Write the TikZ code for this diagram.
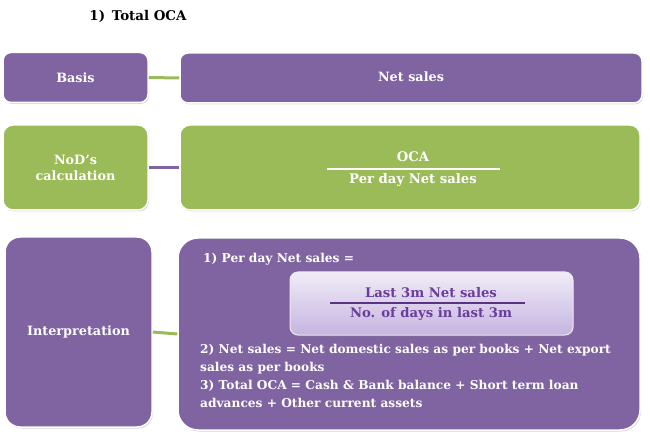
\documentclass[tikz,border=0pt]{standalone}
\usepackage{fontspec}
\setmainfont{DejaVu Serif}
\usetikzlibrary{shadows}
\definecolor{pur}{HTML}{8064A2}
\definecolor{grn}{HTML}{9BBB59}
\definecolor{lavtop}{HTML}{F0ECF7}
\definecolor{lavbot}{HTML}{C6B4E0}
\definecolor{dpur}{HTML}{6A3D9A}
\begin{document}
\begin{tikzpicture}[x=1pt,y=-1pt,
  box/.style={draw=white, line width=1.5pt, rounded corners=#1,
    drop shadow={shadow xshift=1pt,shadow yshift=-1.5pt,opacity=0.3},
    text=white, font=\bfseries\fontsize{12.8}{16}\selectfont, align=center, inner sep=0pt},
  box/.default=8pt,
  conn/.style={line width=3pt, draw=#1},
  txt/.style={text=white, font=\bfseries\fontsize{12.2}{14}\selectfont, inner sep=0pt, anchor=base west},
  frac/.style={font=\bfseries\fontsize{13.2}{15}\selectfont, inner sep=0pt},
]
\useasboundingbox (0,0) rectangle (650,443);
\node[font=\bfseries\fontsize{13.4}{16}\selectfont, inner sep=0pt] (title) at (138,16) {1)\enspace Total OCA};

% row 1
\node[box, fill=pur, minimum width=145pt, minimum height=50pt] (basis) at (75.5,77.5) {Basis};
\node[box, fill=pur, minimum width=462pt, minimum height=50pt] (netsales) at (411,78) {};
\node[text=white, font=\bfseries\fontsize{12.8}{16}\selectfont, inner sep=0pt] (nslabel) at (411,77) {Net sales};
\draw[conn=grn] (basis.east) -- (netsales.west);

% row 2
\node[box=10pt, fill=grn, minimum width=145pt, minimum height=85pt] (nod) at (75.5,167.5) {NoD's\\calculation};
\node[box=10pt, fill=grn, minimum width=460pt, minimum height=85pt] (calc) at (410,167.5) {};
\node[frac, text=white] (oca) at (413,157) {OCA};
\node[frac, text=white] (pdns) at (413,180) {Per day Net sales};
\draw[white, line width=2.5pt] (327,169) -- (500,169);
\draw[conn=pur] (nod.east) -- (calc.west);

% row 3
\node[box=15pt, fill=pur, minimum width=147pt, minimum height=190pt] (interp) at (78.5,332) {Interpretation};
\node[box=20pt, fill=pur, minimum width=462pt, minimum height=192pt] (expl) at (409,334) {};
\draw[conn=grn] (interp.east) -- (expl.west);

\node[txt] (l1) at (203,263) {1) Per day Net sales =};
\node[draw=white!85!pur, line width=1pt, rounded corners=8pt, top color=lavtop, bottom color=lavbot,
  drop shadow={shadow xshift=1pt,shadow yshift=-1.5pt,opacity=0.3},
  minimum width=283pt, minimum height=63pt, inner sep=0pt] (inner) at (431.5,303.5) {};
\node[frac, text=dpur] (last) at (431,293) {Last 3m Net sales};
\node[frac, text=dpur] (days) at (431,314) {No. of days in last 3m};
\draw[dpur!85!black, line width=1.8pt] (330,303) -- (525,303);

\node[txt] (l2) at (200,353.5) {2) Net sales = Net domestic sales as per books + Net export};
\node[txt] (l2b) at (200,371.5) {sales as per books};
\node[txt] (l3) at (200,389.5) {3) Total OCA = Cash \& Bank balance + Short term loan};
\node[txt] (l3b) at (200,407.5) {advances + Other current assets};
\end{tikzpicture}
\end{document}
